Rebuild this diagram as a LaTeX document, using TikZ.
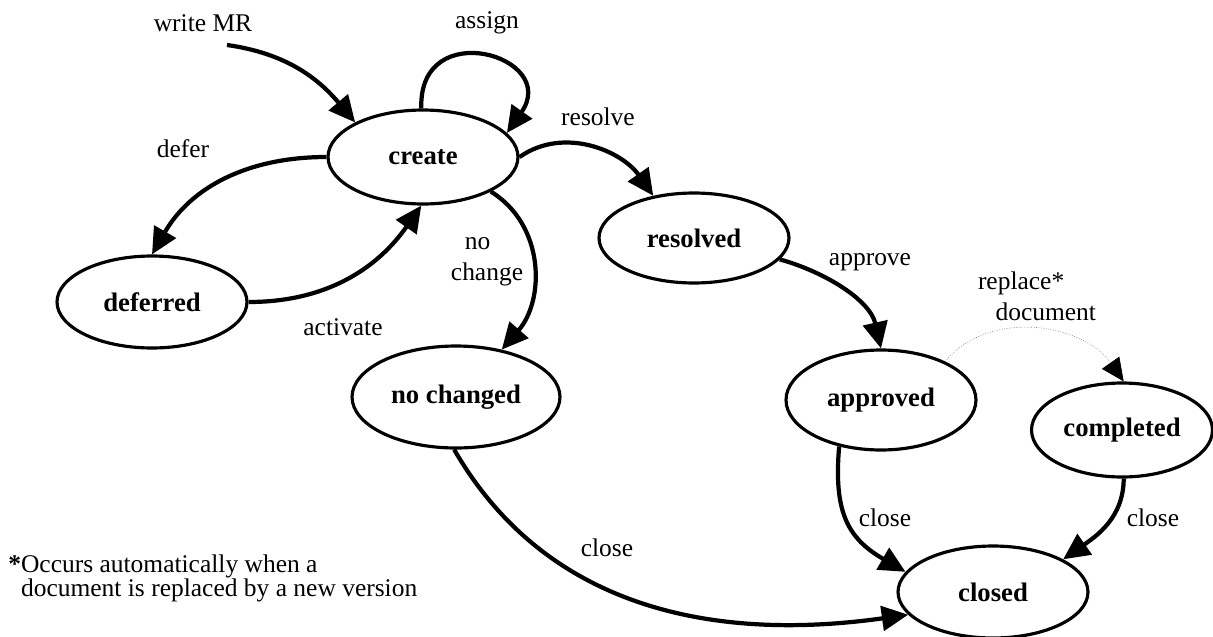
\documentclass[tikz,border=0pt]{standalone}
\usepackage{fontspec}
\setmainfont{Liberation Serif}
\usetikzlibrary{arrows.meta,shapes.geometric,positioning}

\begin{document}
\begin{tikzpicture}[x=0.02cm,y=0.02cm,>={Triangle[length=15pt,width=14pt]},
	state/.style={ellipse,draw,line width=1.8pt,inner sep=0pt,font=\fontsize{15.2}{17}\selectfont\bfseries},
	trans/.style={->,line width=2.4pt},
	lbl/.style={inner sep=0pt,font=\fontsize{14.5}{17.5}\selectfont}]
	\useasboundingbox (0,0) rectangle (1213,-636);

	% states
	\node[state,minimum width=3.8cm,minimum height=1.88cm] (create) at (423,-157) {create};
	\node[state,minimum width=3.8cm,minimum height=1.84cm] (deferred) at (152,-302) {deferred};
	\node[state,minimum width=3.8cm,minimum height=1.8cm] (resolved) at (694,-238) {resolved};
	\node[state,minimum width=4.16cm,minimum height=2.04cm] (nochanged) at (456,-397) {no changed};
	\node[state,minimum width=3.8cm,minimum height=2cm] (approved) at (881,-400) {approved};
	\node[state,minimum width=3.62cm,minimum height=1.88cm] (completed) at (1122,-430) {completed};
	\node[state,minimum width=3.8cm,minimum height=1.84cm] (closed) at (993,-592) {closed};

	% labels
	\node[lbl] (lwrite) at (203,-23) {write MR};
	\node[lbl] (lassign) at (487,-23) {assign};
	\node[lbl] (lresolve) at (598,-117) {resolve};
	\node[lbl] (ldefer) at (183,-149) {defer};
	\node[lbl,align=left] (lnochange) at (487,-262) {\hspace*{8pt}no\\change};
	\node[lbl] (lactivate) at (343,-327) {activate};
	\node[lbl] (lapprove) at (870,-262) {approve};
	\node[lbl,align=left] (lreplace) at (1037,-296) {replace*\\\hspace*{10pt}document};
	\node[lbl] (lclosea) at (607,-548) {close};
	\node[lbl] (lcloseb) at (885,-518) {close};
	\node[lbl] (lclosec) at (1153,-518) {close};
	\node[lbl,anchor=north west,align=left,font=\fontsize{14.5}{12}\selectfont] (note) at (8,-554) {\textbf{*}Occurs automatically when a\\\hphantom{\textbf{*}}document is replaced by a new version};

	% transitions
	\coordinate (mrstart) at (227,-45);
	\draw[trans] (mrstart) to[out=-8,in=130] (create.153);
	\draw[trans] (create.92) to[out=92,in=55,looseness=2.7] (create.16);
	\draw[trans] (create.0) to[out=35,in=125] (resolved.134);
	\draw[trans] (create.180) to[out=180,in=60] (deferred.90);
	\draw[trans] (deferred.0) to[out=0,in=235] (create.268);
	\draw[trans] (create.-27) .. controls (545,-225) and (545,-300) .. (nochanged.46);
	\draw[trans] (resolved.-14) .. controls (825,-272) and (870,-300) .. (approved.90);
	\draw[gray,densely dotted,thin,-{Triangle[length=13pt,width=12pt,color=black]}] (approved.31) to[out=50,in=125] (completed.88);
	\draw[trans] (nochanged.-92) to[out=-60,in=188] (closed.195);
	\draw[trans] (approved.228) to[out=-95,in=150,looseness=1.2] (closed.167);
	\draw[trans] (completed.-88) to[out=-90,in=35] (closed.25);
\end{tikzpicture}
\end{document}
